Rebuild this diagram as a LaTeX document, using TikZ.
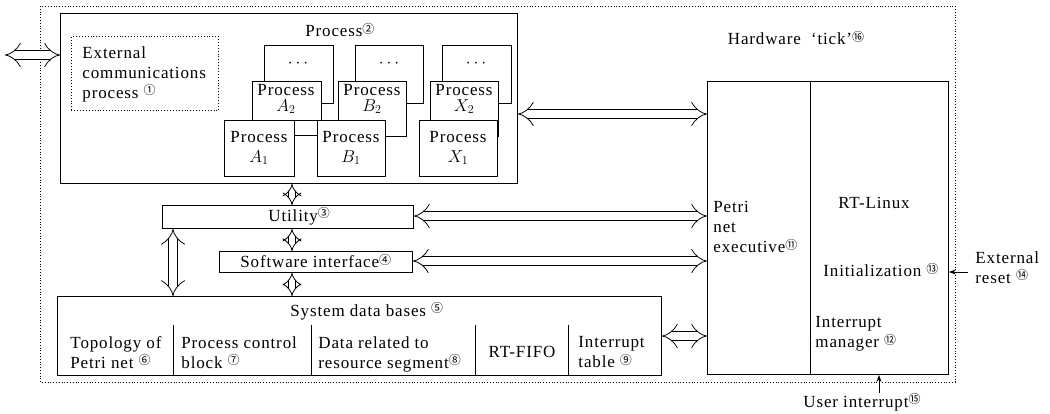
\documentclass[tikz,border=0pt]{standalone}
\usepackage{fontspec}
\setmainfont{Liberation Serif}[LetterSpace=5]
\newfontfamily\cjkfont{Noto Sans CJK SC}
\usetikzlibrary{arrows.meta}
\newcommand\cnum[1]{\raisebox{0.45ex}{\cjkfont\fontsize{12}{12}\selectfont #1}}
\begin{document}
\begin{tikzpicture}[x=1pt,y=-1pt,line width=0.9pt,
  box/.style={draw,fill=white,anchor=north west,inner sep=0pt},
  dotbox/.style={draw,dotted,anchor=north west,inner sep=0pt},
  txt/.style={inner sep=0pt,font=\fontsize{17}{20}\selectfont,align=left},
  ctxt/.style={inner sep=0pt,font=\fontsize{17}{20}\selectfont,align=center},
  stxt/.style={inner sep=0pt,font=\fontsize{17}{16}\selectfont,align=center},
  dbl/.style={double,double distance=8pt,line width=0.8pt,{Implies}-{Implies}},
  vdbl/.style={double,double distance=6pt,line width=0.8pt,{Implies}-{Implies}},
  sig/.style={line width=0.9pt,-{Stealth[length=7pt,width=5pt]}}]
\useasboundingbox (0,0) rectangle (1050,413);
% outer dotted boundary
\draw[dotted,line width=0.8pt] (40,6) rectangle (955,382);
% process area
\node[box,minimum width=457pt,minimum height=170pt] (proc) at (60,13) {};
\node[dotbox,minimum width=147pt,minimum height=74pt] (ext) at (71,36) {};
\node[txt,anchor=north west] (exttxt) at (82,46) {External\\communications\\process \cnum{①}};
\node[txt,anchor=west] (ptitle) at (305,30) {Process\cnum{②}};
% stack A
\node[box,minimum width=69pt,minimum height=58pt] (A3) at (264,45) {};
\node[box,minimum width=69pt,minimum height=39pt] (A2) at (252,81) {};
\node[box,minimum width=70pt,minimum height=56pt] (A1) at (224,120) {};
% stack B
\node[box,minimum width=68pt,minimum height=58pt] (B3) at (355,45) {};
\node[box,minimum width=68pt,minimum height=55pt] (B2) at (338,81) {};
\node[box,minimum width=68pt,minimum height=56pt] (B1) at (317,120) {};
% stack X
\node[box,minimum width=69pt,minimum height=58pt] (X3) at (442,45) {};
\node[box,minimum width=68pt,minimum height=55pt] (X2) at (430,81) {};
\node[box,minimum width=78pt,minimum height=56pt] (X1) at (419,120) {};
% stack labels
\node[ctxt] (A3t) at (298,64) {$\cdots$};
\node[ctxt] (B3t) at (389,64) {$\cdots$};
\node[ctxt] (X3t) at (476,64) {$\cdots$};
\node[stxt] (A2t) at (286,99) {Process\\$A_2$};
\node[stxt] (B2t) at (372,99) {Process\\$B_2$};
\node[stxt] (X2t) at (464,99) {Process\\$X_2$};
\node[ctxt] (A1t) at (259,148) {Process\\$A_1$};
\node[ctxt] (B1t) at (351,148) {Process\\$B_1$};
\node[ctxt] (X1t) at (458,148) {Process\\$X_1$};
\coordinate (yab) at (0,135);
\draw (A1.east |- yab) -- (B1.west |- yab);
% utility, software interface, system data bases
\node[box,minimum width=251pt,minimum height=23pt] (util) at (162,205) {};
\node[txt,anchor=west] (utilt) at (268,216) {Utility\cnum{③}};
\node[box,minimum width=193pt,minimum height=21pt] (sw) at (219,251) {};
\node[txt,anchor=west] (swt) at (240,261) {Software\ interface\cnum{④}};
\node[box,minimum width=604pt,minimum height=79pt] (sdb) at (57,296) {};
\node[txt,anchor=west] (sdbt) at (290,311) {System data bases \cnum{⑤}};
\foreach \xx/\nm in {173/d1,311/d2,475/d3,568/d4}{
  \coordinate (\nm) at (\xx,325);
  \draw (\nm) -- (\nm |- sdb.south);
}
\node[txt,anchor=north west] (c1) at (70,336) {Topology of\\Petri net \cnum{⑥}};
\node[txt,anchor=north west] (c2) at (181,336) {Process control\\block \cnum{⑦}};
\node[txt,anchor=north west] (c3) at (318,336) {Data related to\\resource segment\cnum{⑧}};
\node[ctxt] (c4) at (522,352) {RT-FIFO};
\node[txt,anchor=north west] (c5) at (578,336) {Interrupt\\table \cnum{⑨}};
% Petri net executive and RT-Linux
\node[box,minimum width=103pt,minimum height=293pt] (pn) at (707,81) {};
\node[box,minimum width=138pt,minimum height=293pt] (rtl) at (810,81) {};
\node[txt,anchor=north west] (pnt) at (713,201) {Petri\\net\\executive\cnum{⑪}};
\node[ctxt] (rtlt) at (874,203) {RT-Linux};
\node[txt,anchor=west] (init) at (823,270) {Initialization \cnum{⑬}};
\node[txt,anchor=north west] (intm) at (815,316) {Interrupt\\manager \cnum{⑫}};
\node[txt] (hw) at (796,38) {Hardware\ \ `tick'\cnum{⑯}};
\node[txt,anchor=north west] (extr) at (975,251) {External\\reset \cnum{⑭}};
\node[txt] (usr) at (862,402) {User interrupt\cnum{⑮}};
% double arrows
\coordinate (extL) at (5,55);
\draw[dbl] (extL) -- (extL -| proc.west);
\coordinate (y1) at (0,114);
\draw[dbl] (proc.east |- y1) -- (pn.west |- y1);
\coordinate (y2) at (0,216);
\draw[dbl] (util.east |- y2) -- (pn.west |- y2);
\coordinate (y3) at (0,261);
\draw[dbl] (sw.east |- y3) -- (pn.west |- y3);
\coordinate (y4) at (0,336);
\draw[dbl] (sdb.east |- y4) -- (pn.west |- y4);
\coordinate (vx) at (292,0);
\draw[vdbl] (proc.south -| vx) -- (util.north -| vx);
\draw[vdbl] (util.south -| vx) -- (sw.north -| vx);
\draw[vdbl] (sw.south -| vx) -- (sdb.north -| vx);
\coordinate (vx2) at (173,0);
\draw[dbl] (util.south -| vx2) -- (sdb.north -| vx2);
% signal arrows
\coordinate (er) at (968,272);
\draw[sig] (er) -- (er -| rtl.east);
\coordinate (ui) at (879,393);
\draw[sig] (ui) -- (ui |- rtl.south);
\end{tikzpicture}
\end{document}
